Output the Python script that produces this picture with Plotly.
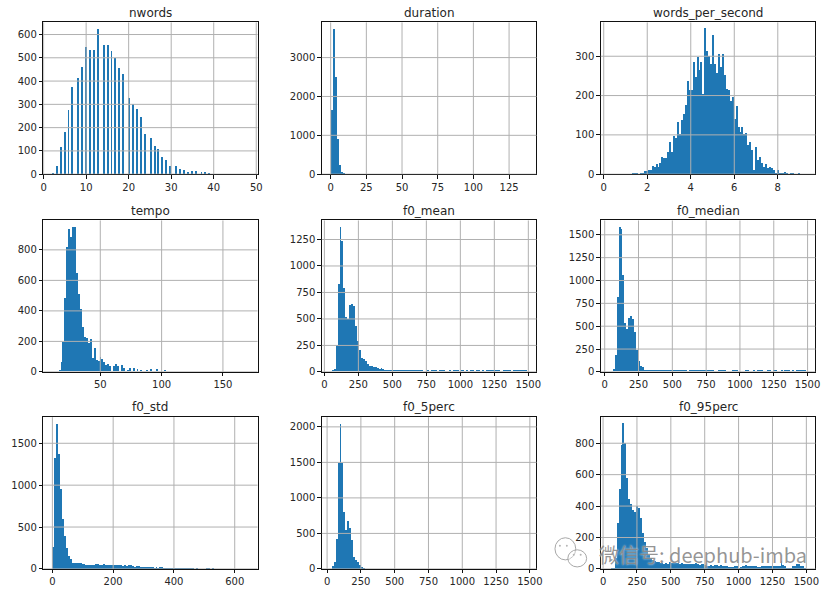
import plotly.graph_objects as go

W, H = 833, 590
# The page draws the paper 581 px tall in the capture window; pixel positions are mapped onto that.
PAPER_H = 581
BLUE = "rgba(31,119,180,0.999)"
GRID = "#b0b0b0"
INK = "#262626"

nwords_counts = [
    5, 0, 35, 0, 115, 0, 180, 0, 273, 0,
    372, 0, 0, 410, 0, 458, 0, 545, 0, 532,
    0, 532, 0, 622, 0, 0, 553, 0, 553, 0,
    527, 0, 498, 0, 453, 0, 428, 0, 0, 325,
    0, 300, 0, 277, 0, 243, 0, 170, 0, 0,
    153, 0, 118, 0, 105, 0, 72, 0, 58, 0,
    32, 0, 0, 32, 0, 20, 0, 18, 0, 6,
    0, 10, 0, 10, 0, 0, 6, 0, 6, 0,
    2, 0, 1, 0, 1, 0, 0, 0, 0, 1,
    0, 1, 0, 0, 0, 1, 0, 0, 0, 1,
]
duration_counts = [1650, 3730, 2490, 900, 220, 40, 10, 4, 2, 1] + [0] * 89 + [1]
wps_counts = [
    0, 0, 0, 0, 0, 0, 0, 0, 0, 0,
    0, 3, 3, 3, 0, 3, 3, 6, 6, 9,
    9, 21, 17, 26, 18, 27, 42, 40, 40, 55,
    80, 55, 95, 90, 132, 100, 137, 152, 175, 236,
    213, 213, 285, 245, 298, 265, 285, 204, 371, 313,
    300, 280, 352, 280, 257, 305, 272, 305, 250, 216,
    213, 185, 195, 140, 172, 120, 105, 120, 100, 103,
    73, 80, 60, 10, 67, 35, 42, 28, 16, 24,
    15, 18, 15, 10, 3, 10, 3, 3, 3, 5,
    3, 0, 3, 3, 0, 0, 3, 0, 0, 0,
]
tempo_counts = [
    6, 0, 0, 12, 60, 190, 480, 815, 935, 880,
    948, 948, 645, 510, 410, 290, 223, 217, 185, 210,
    90, 155, 78, 70, 97, 80, 65, 45, 52, 38,
    0, 35, 50, 35, 0, 45, 25, 0, 12, 25,
    0, 25, 0, 18, 0, 12, 0, 0, 12, 0,
    18, 0, 0, 18, 0, 0, 0, 12, 0, 0,
    0, 0, 6, 0, 0, 0, 6, 0, 0, 0,
    0, 6, 0, 0, 0, 0, 6, 0, 0, 0,
    0, 0, 6, 0, 0, 0, 0, 0, 0, 0,
    0, 0, 0, 0, 0, 0, 0, 0, 0, 6,
]
f0_mean_counts = [
    12, 25, 250, 830, 1365, 1230, 785, 510, 500, 625,
    635, 615, 430, 285, 205, 130, 115, 95, 70, 50,
    48, 40, 40, 33, 25, 30, 20, 15, 15, 15,
    15, 15, 15, 15, 15, 15, 15, 15, 15, 15,
    15, 15, 15, 15, 15, 15, 15, 0, 0, 15,
    0, 15, 15, 15, 0, 15, 15, 15, 0, 0,
    15, 0, 15, 15, 15, 0, 15, 15, 0, 15,
    0, 15, 15, 0, 15, 15, 0, 15, 0, 15,
    15, 15, 15, 15, 15, 15, 0, 0, 15, 15,
    15, 15, 0, 15, 15, 15, 15, 15, 15, 15,
]
f0_median_counts = [
    6, 25, 175, 820, 1580, 1555, 1060, 530, 470, 590,
    610, 575, 435, 230, 120, 65, 50, 18, 18, 18,
    18, 18, 18, 18, 18, 18, 18, 18, 18, 18,
    18, 18, 18, 18, 18, 18, 18, 18, 18, 0,
    18, 18, 18, 18, 18, 18, 18, 18, 18, 18,
    18, 18, 18, 0, 0, 18, 18, 18, 18, 0,
    0, 0, 18, 18, 18, 0, 0, 0, 0, 18,
    18, 0, 0, 18, 0, 18, 18, 18, 0, 0,
    18, 18, 0, 18, 18, 0, 0, 18, 0, 18,
    18, 18, 0, 18, 0, 18, 18, 18, 18, 18,
]
f0_std_counts = [
    265, 1325, 1730, 1370, 950, 600, 395, 250, 155, 120,
    65, 65, 65, 65, 75, 60, 55, 45, 50, 50,
    50, 50, 60, 60, 45, 50, 60, 40, 40, 40,
    50, 40, 50, 40, 40, 50, 30, 50, 30, 40,
    40, 30, 25, 30, 30, 25, 25, 25, 25, 25,
    25, 20, 15, 25, 10, 25, 25, 15, 15, 15,
    15, 15, 15, 15, 15, 15, 15, 15, 15, 15,
    15, 15, 10, 0, 10, 0, 0, 0, 0, 15,
    15, 0, 12, 0, 0, 0, 0, 0, 0, 0,
    0, 0, 0, 0, 0, 0, 0, 0, 0, 0,
]
f0_5perc_counts = [
    40, 100, 420, 1495, 2040, 1495, 800, 540, 675, 580,
    410, 160, 125, 90, 50, 20, 6, 2, 1, 1,
] + [0] * 80
f0_95perc_counts = [
    5, 5, 70, 290, 505, 790, 925, 800, 580, 445,
    415, 375, 360, 400, 390, 325, 230, 170, 130, 90,
    70, 55, 50, 45, 40, 35, 38, 32, 35, 32,
    40, 38, 38, 35, 35, 32, 35, 30, 32, 32,
    30, 32, 30, 38, 28, 22, 28, 28, 25, 20,
    20, 22, 15, 22, 22, 18, 25, 20, 15, 15,
    10, 10, 12, 15, 15, 8, 12, 20, 15, 22,
    15, 15, 15, 15, 15, 12, 10, 18, 20, 15,
    20, 15, 15, 15, 15, 18, 15, 50, 25, 20,
    8, 8, 8, 15, 20, 28, 28, 20, 15, 5,
]

titles = ["nwords", "duration", "words_per_second", "tempo", "f0_mean", "f0_median",
          "f0_std", "f0_5perc", "f0_95perc"]
all_counts = [nwords_counts, duration_counts, wps_counts, tempo_counts, f0_mean_counts,
              f0_median_counts, f0_std_counts, f0_5perc_counts, f0_95perc_counts]
bin_spans = [(2, 48), (0.2, 137), (0.31, 9.28), (11.44, 170.3), (52.6, 1488), (43, 1486),
             (1, 641), (33, 1477), (55, 1495)]
x_ranges = [(-0.08, 50.3), (-6.2, 144.2), (-0.136, 9.73), (3.5, 178.2), (-19, 1560), (-29, 1558),
            (-30, 675), (-39, 1549), (-17, 1567)]
y_tops = [652, 3905, 386, 993, 1430, 1657, 1812, 2137, 966]
x_ticks = [list(range(0, 51, 10)), list(range(0, 126, 25)), [0, 2, 4, 6, 8], [50, 100, 150],
           list(range(0, 1501, 250)), list(range(0, 1501, 250)), [0, 200, 400, 600],
           list(range(0, 1501, 250)), list(range(0, 1501, 250))]
y_ticks = [list(range(0, 601, 100)), [0, 1000, 2000, 3000], [0, 100, 200, 300], list(range(0, 801, 200)),
           list(range(0, 1251, 250)), list(range(0, 1501, 250)), [0, 500, 1000, 1500],
           list(range(0, 2001, 500)), list(range(0, 801, 200))]

col_px = [(40.7, 257.3), (322.3, 539.3), (604.3, 821.3)]
row_px = [(22.3, 173.3), (219.3, 370), (415, 566)]
title_px = [13, 210, 405]


def py(v):
    return 1 - v / PAPER_H


fig = go.Figure()
layout = dict(
    width=W, height=H, autosize=False, margin=dict(l=0, r=0, t=0, b=0),
    paper_bgcolor="white", plot_bgcolor="white", showlegend=False, bargap=0,
    font=dict(family="DejaVu Sans", size=10, color=INK),
)
shapes, annotations = [], []

for i, title in enumerate(titles):
    ax = "" if i == 0 else str(i + 1)
    counts = all_counts[i]
    lo, hi = bin_spans[i]
    step = (hi - lo) / len(counts)
    fig.add_trace(go.Bar(y=counts, x0=lo + step / 2, dx=step, width=step,
                         marker=dict(color=BLUE, line=dict(width=0)),
                         xaxis="x" + ax, yaxis="y" + ax, name=title))
    c0, c1 = col_px[i % 3]
    r0, r1 = row_px[i // 3]
    common = dict(showgrid=False, zeroline=False, showline=True, mirror=True, linecolor="#111111",
                  linewidth=1, ticks="outside", ticklen=3.5, tickwidth=1, tickcolor="#111111",
                  tickfont=dict(size=10, color=INK), tickmode="array")
    layout["xaxis" + ax] = dict(common, domain=[c0 / W, c1 / W], range=list(x_ranges[i]),
                                tickvals=x_ticks[i], anchor="y" + ax)
    layout["yaxis" + ax] = dict(common, domain=[py(r1), py(r0)], range=[0, y_tops[i]],
                                tickvals=y_ticks[i], anchor="x" + ax)
    for v in x_ticks[i]:
        shapes.append(dict(type="line", xref="x" + ax, yref="y" + ax + " domain", x0=v, x1=v, y0=0, y1=1,
                           line=dict(color=GRID, width=1), layer="above"))
    for v in y_ticks[i]:
        shapes.append(dict(type="line", xref="x" + ax + " domain", yref="y" + ax, x0=0, x1=1, y0=v, y1=v,
                           line=dict(color=GRID, width=1), layer="above"))
    annotations.append(dict(text=title, xref="paper", yref="paper", x=(c0 + c1) / 2 / W, y=py(title_px[i // 3]),
                            xanchor="center", yanchor="middle", showarrow=False,
                            font=dict(size=12, color=INK)))


def bubble(x0, y0, x1, y1):
    return dict(type="circle", xref="paper", yref="paper", x0=x0 / W, x1=x1 / W, y0=py(y0), y1=py(y1),
                line=dict(color="#a8a8a8", width=1), fillcolor="rgba(255,255,255,0.35)", layer="above")


shapes.append(bubble(558, 535, 579, 557))
shapes.append(bubble(571, 547, 590, 564))
for ex, ey in [(563, 543), (570, 543), (577, 552), (584, 552)]:
    shapes.append(dict(type="circle", xref="paper", yref="paper", x0=(ex - 1) / W, x1=(ex + 1) / W,
                       y0=py(ey - 1), y1=py(ey + 1), line=dict(width=0),
                       fillcolor="#b5b5b5", layer="above"))

annotations.append(dict(text="微信号: deephub-imba", xref="paper", yref="paper", x=600 / W, y=py(552),
                        xanchor="left", yanchor="middle", showarrow=False,
                        font=dict(family="Noto Sans CJK SC", size=20, color="rgba(130,130,130,0.85)",
                                  shadow="0 0 2px white")))

layout["shapes"] = shapes
layout["annotations"] = annotations
fig.update_layout(**layout)
fig.write_html("out.html", config={"displayModeBar": False},
               post_script="document.body.style.margin='0';document.documentElement.style.overflow='hidden';")
